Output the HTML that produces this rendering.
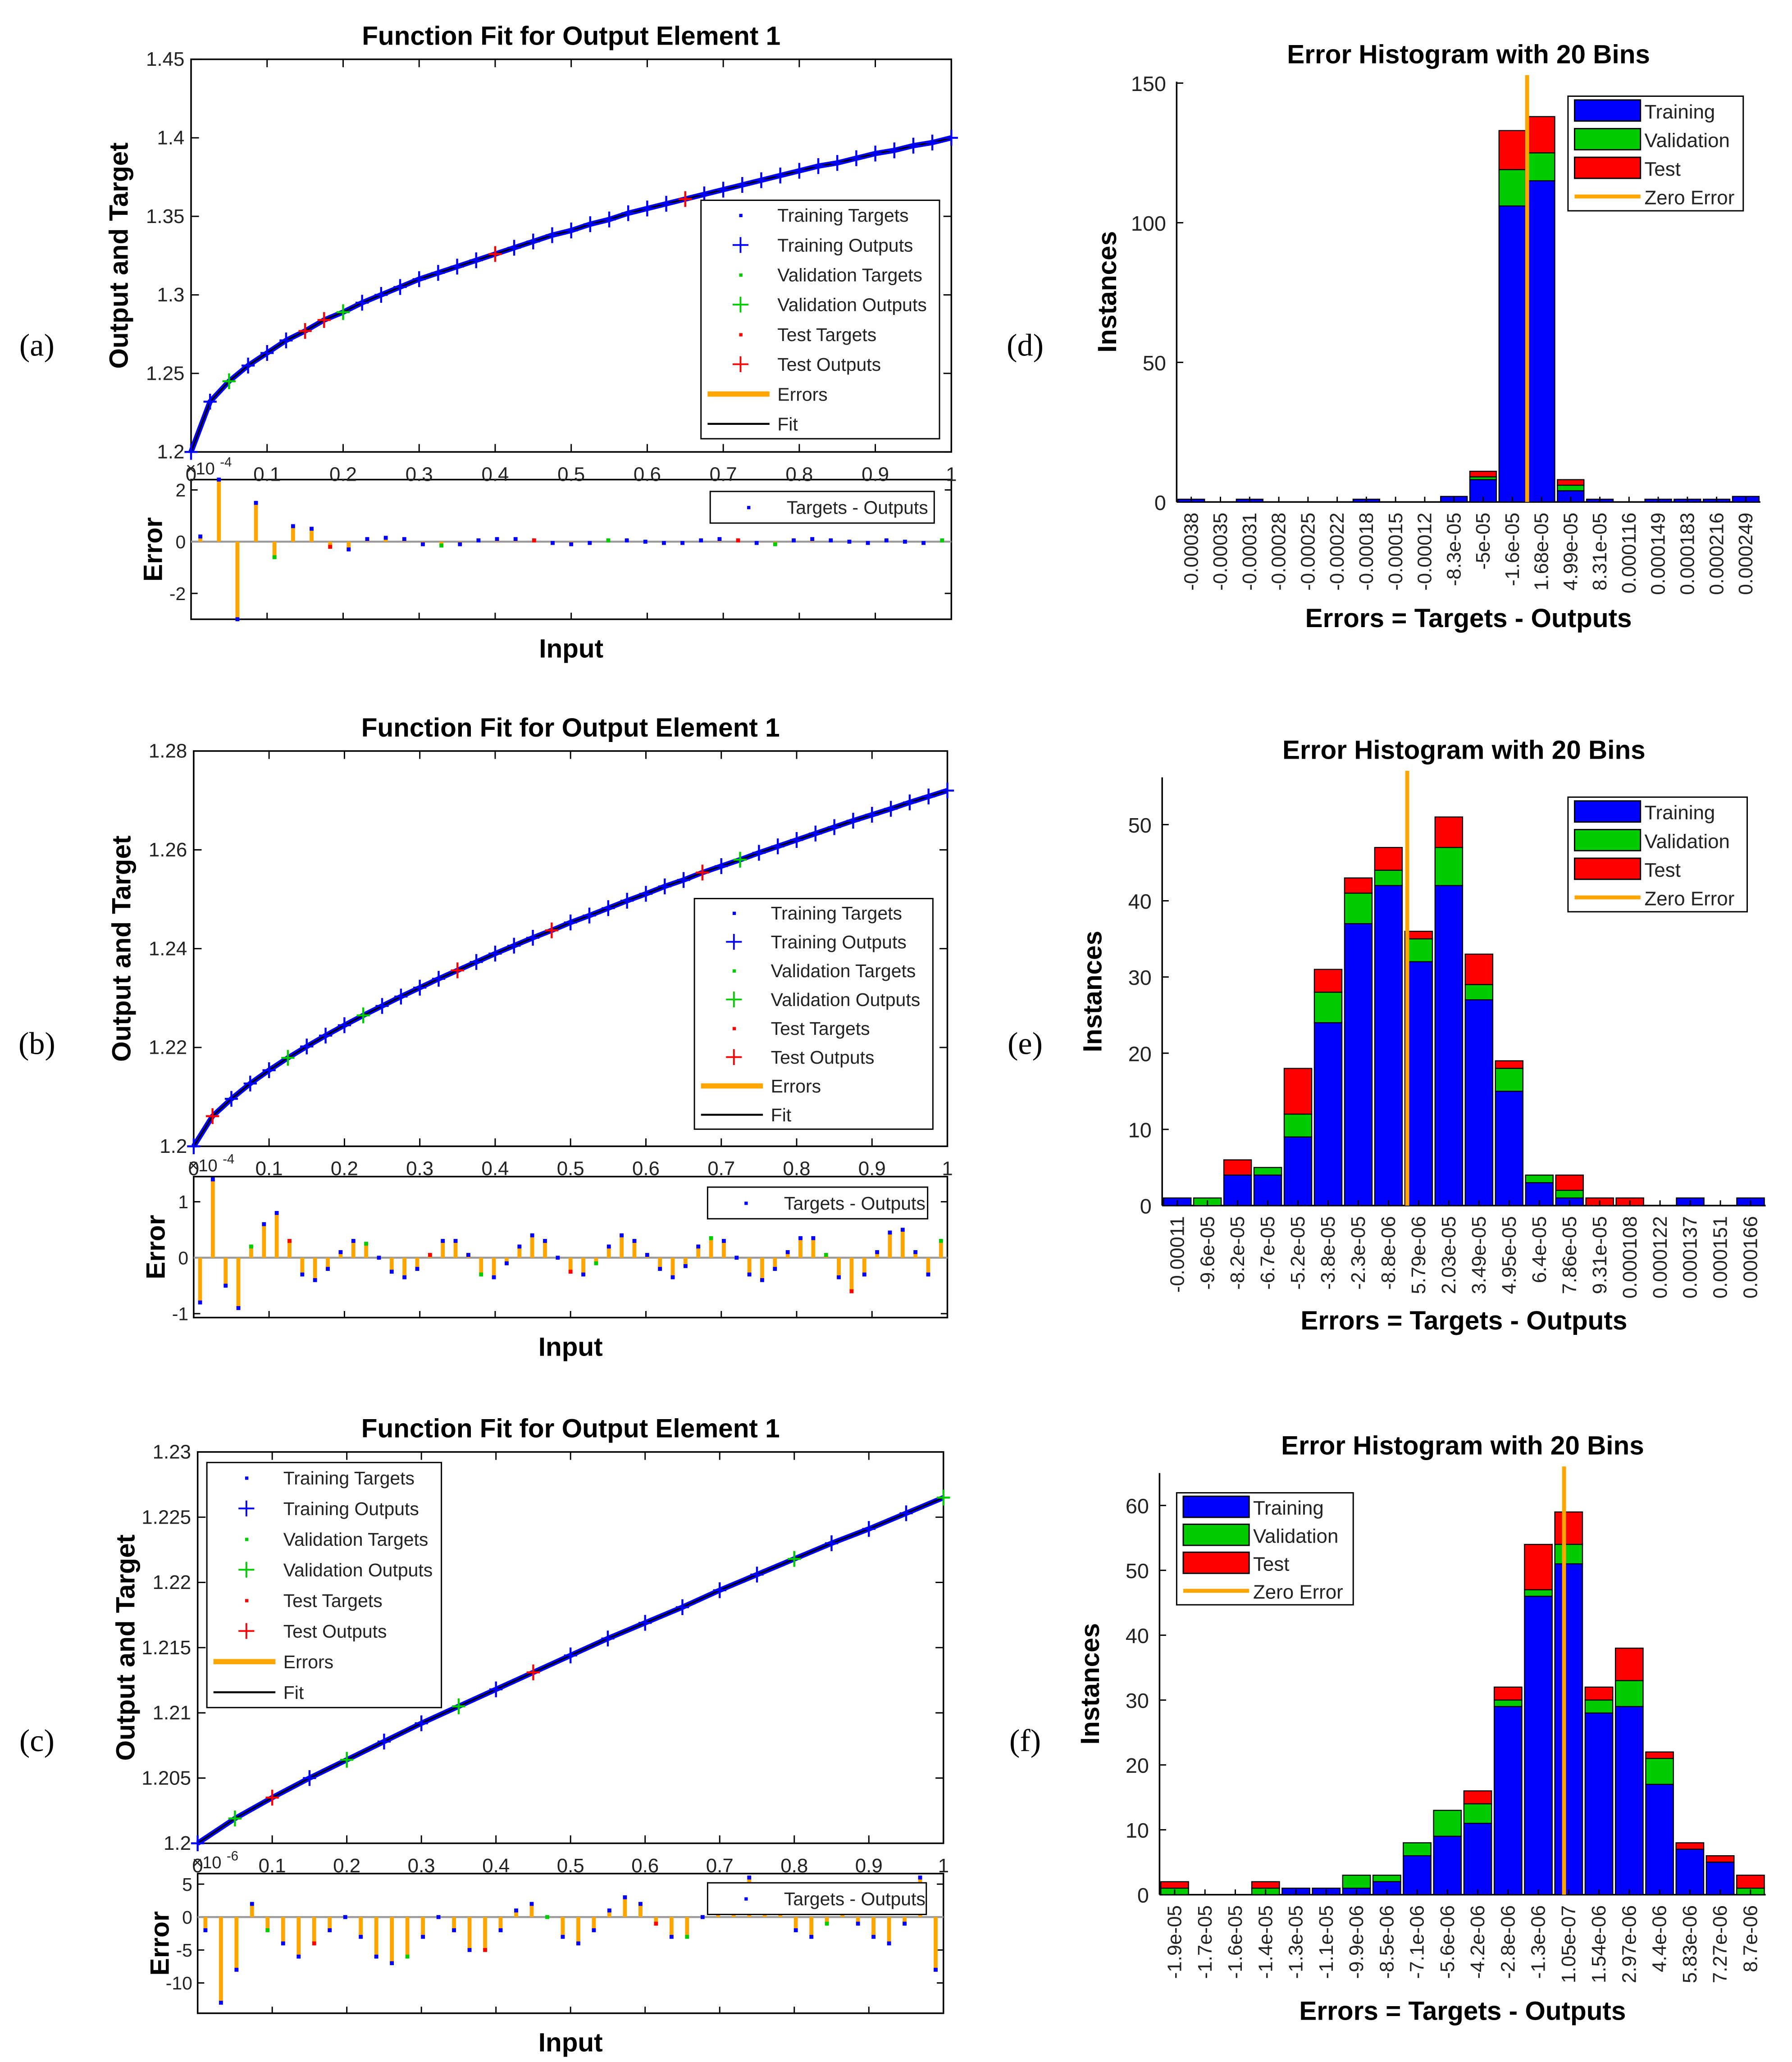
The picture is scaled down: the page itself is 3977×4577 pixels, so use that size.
<!DOCTYPE html>
<html><head><meta charset="utf-8"><style>
html,body{margin:0;padding:0;background:#fff;}
svg{display:block;}
text{font-family:"Liberation Sans",sans-serif;}
</style></head><body>
<svg id="fig" width="3977" height="4577" viewBox="0 0 1360 1565" preserveAspectRatio="none" xmlns="http://www.w3.org/2000/svg"></svg>
<script>
// ---------- data ----------
const fitA = [1.2,1.232,1.245,1.255,1.263,1.271,1.277,1.284,1.289,1.295,1.3,1.305,1.310,1.314,1.318,1.322,1.326,1.330,1.334,1.338,1.341,1.345,1.348,1.352,1.355,1.358,1.361,1.364,1.367,1.370,1.373,1.376,1.379,1.382,1.384,1.387,1.390,1.392,1.395,1.397,1.4];
const colA = "bbgbbbrrgbbbbbbbrbbbbbbbbbrbbbbbbbbbbbbbb";
const errA = [0.2,2.4,-3.0,1.5,-0.6,0.6,0.5,-0.2,-0.3,0.1,0.15,0.1,-0.1,-0.15,-0.1,0.05,0.1,0.1,0.05,-0.05,-0.1,-0.05,0.05,0.05,0,-0.05,-0.05,0.05,0.1,0.05,-0.05,-0.1,0.05,0.1,0.05,0,-0.05,0.05,0,-0.05,0.05];
const fitB = [1.2,1.2061,1.2096,1.2127,1.2154,1.2179,1.2202,1.2224,1.2245,1.2265,1.2284,1.2303,1.2321,1.2339,1.2356,1.2373,1.2390,1.2406,1.2422,1.2437,1.2453,1.2467,1.2482,1.2497,1.2511,1.2526,1.2539,1.2554,1.2567,1.2580,1.2594,1.2607,1.2620,1.2633,1.2646,1.2659,1.2671,1.2683,1.2696,1.2708,1.2720];
const colB = "brbbbgbbbgbbbbrbbbbrbbbbbbbrbgbbbbbbbbbbb";
const errB = [-0.8,1.4,-0.5,-0.9,0.2,0.6,0.8,0.3,-0.3,-0.4,-0.2,0.1,0.3,0.25,0,-0.25,-0.35,-0.2,0.05,0.3,0.3,0.05,-0.3,-0.35,-0.1,0.2,0.4,0.3,0,-0.25,-0.3,-0.1,0.2,0.4,0.3,0.05,-0.2,-0.35,-0.15,0.2,0.35,0.3,0,-0.3,-0.4,-0.2,0.1,0.35,0.35,0.05,-0.35,-0.6,-0.3,0.1,0.45,0.5,0.1,-0.3,0.3];
const fitC = [1.2,1.2019,1.2035,1.2050,1.2064,1.2078,1.2092,1.2105,1.2118,1.2131,1.2144,1.2157,1.2169,1.2181,1.2194,1.2206,1.2218,1.2230,1.2241,1.2253,1.2265];
const colC = "bgrbgbbgbrbbbbbbgbbbg";
const errC = [-2,-13,-8,2,-2,-4,-6,-4,-2,0,-3,-6,-7,-6,-3,0,-2,-5,-5,-2,1,2,0,-3,-4,-2,1,3,2,-1,-3,-3,0,3,4,6,4,1,-2,-3,-1,2,-1,-3,-4,-1,6,-8];
const xTicks = [0,0.1,0.2,0.3,0.4,0.5,0.6,0.7,0.8,0.9,1];
const xTickLabels = ["0","0.1","0.2","0.3","0.4","0.5","0.6","0.7","0.8","0.9","1"];

const binsD = ["-0.00038","-0.00035","-0.00031","-0.00028","-0.00025","-0.00022","-0.00018","-0.00015","-0.00012","-8.3e-05","-5e-05","-1.6e-05","1.68e-05","4.99e-05","8.31e-05","0.000116","0.000149","0.000183","0.000216","0.000249"];
const trainD = [1,0,1,0,0,0,1,0,0,2,8,106,115,4,1,0,1,1,1,2];
const valD   = [0,0,0,0,0,0,0,0,0,0,1,13,10,2,0,0,0,0,0,0];
const testD  = [0,0,0,0,0,0,0,0,0,0,2,14,13,2,0,0,0,0,0,0];
const binsE = ["-0.00011","-9.6e-05","-8.2e-05","-6.7e-05","-5.2e-05","-3.8e-05","-2.3e-05","-8.8e-06","5.79e-06","2.03e-05","3.49e-05","4.95e-05","6.4e-05","7.86e-05","9.31e-05","0.000108","0.000122","0.000137","0.000151","0.000166"];
const trainE = [1,0,4,4,9,24,37,42,32,42,27,15,3,1,0,0,0,1,0,1];
const valE   = [0,1,0,1,3,4,4,2,3,5,2,3,1,1,0,0,0,0,0,0];
const testE  = [0,0,2,0,6,3,2,3,1,4,4,1,0,2,1,1,0,0,0,0];
const binsF = ["-1.9e-05","-1.7e-05","-1.6e-05","-1.4e-05","-1.3e-05","-1.1e-05","-9.9e-06","-8.5e-06","-7.1e-06","-5.6e-06","-4.2e-06","-2.8e-06","-1.3e-06","1.05e-07","1.54e-06","2.97e-06","4.4e-06","5.83e-06","7.27e-06","8.7e-06"];
const trainF = [0,0,0,0,1,1,1,2,6,9,11,29,46,51,28,29,17,7,5,0];
const valF   = [1,0,0,1,0,0,2,1,2,4,3,1,1,3,2,4,4,0,0,1];
const testF  = [1,0,0,1,0,0,0,0,0,0,2,2,7,5,2,5,1,1,1,2];

// ---------- helpers ----------
const NS = "http://www.w3.org/2000/svg";
const svg = document.getElementById('fig');
function mk(tag, attrs, parent) {
  const e = document.createElementNS(NS, tag);
  for (const k in attrs) e.setAttribute(k, attrs[k]);
  (parent || svg).appendChild(e);
  return e;
}
function txt(s, attrs, parent) { const t = mk('text', attrs, parent); t.textContent = s; return t; }
const COL = {b:'#0000ff', g:'#00cc00', r:'#ff0000'};

function fitPanel(P, fit, cols, err) {
  const g = mk('g', {});
  
  
  const sx = v => P.x0 + v * (P.x1 - P.x0);
  const sy = v => P.y1 - (v - P.ymin) / (P.ymax - P.ymin) * (P.y1 - P.y0);
  const ey = v => P.ey1 - (v - P.emin) / (P.emax - P.emin) * (P.ey1 - P.ey0);
  const t = txt('Function Fit for Output Element 1', {x:(P.x0+P.x1)/2, y:P.y0-11, 'font-size':20, 'font-weight':'bold', 'text-anchor':'middle'}, g);
  
  
  const box = mk('rect', {x:P.x0, y:P.y0, width:P.x1-P.x0, height:P.y1-P.y0, fill:'#fff', stroke:'#000', 'stroke-width':1.2}, g);
  
  
  P.yticks.forEach((v, i) => {
    mk('line', {x1:P.x0, x2:P.x0+6, y1:sy(v), y2:sy(v), stroke:'#000'}, g);
    mk('line', {x1:P.x1, x2:P.x1-6, y1:sy(v), y2:sy(v), stroke:'#000'}, g);
    const l = txt(P.ylabels[i], {x:P.x0-5, y:sy(v)+5, 'font-size':15, 'text-anchor':'end', fill:'#222'}, g);
    
    
  });
  xTicks.forEach((v, i) => {
    mk('line', {x1:sx(v), x2:sx(v), y1:P.y1, y2:P.y1-6, stroke:'#000'}, g);
    mk('line', {x1:sx(v), x2:sx(v), y1:P.y0, y2:P.y0+6, stroke:'#000'}, g);
  });
  const n = fit.length;
  const pts = fit.map((v, i) => sx(i/(n-1)) + ',' + sy(v)).join(' ');
  const band = mk('polyline', {points:pts, fill:'none', stroke:'#0000ff', 'stroke-width':4}, g);
  
  
  const fl = mk('polyline', {points:pts, fill:'none', stroke:'#000', 'stroke-width':1.2}, g);
  
  
  fit.forEach((v, i) => {
    const c = COL[cols[i]] || COL.b;
    const x = sx(i/(n-1)), y = sy(v);
    const m = mk('path', {d:`M${x-5},${y}H${x+5}M${x},${y-6}V${y+6}`, stroke:c, 'stroke-width':1.5}, g);
    
    
  });
  const L = P.leg;
  const lg = mk('rect', {x:L.x, y:L.y, width:L.w, height:L.h, fill:'#fff', stroke:'#000', 'stroke-width':1}, g);
  
  
  const items = [['Training Targets','b','dot'],['Training Outputs','b','plus'],['Validation Targets','g','dot'],['Validation Outputs','g','plus'],['Test Targets','r','dot'],['Test Outputs','r','plus'],['Errors','#ffa500','line'],['Fit','#000','thin']];
  const dy = L.h / 8;
  items.forEach((it, i) => {
    const y = L.y + dy*(i+0.5);
    const cx = L.x + 30;
    if (it[2] === 'dot') mk('rect', {x:cx-1, y:y-1, width:2.5, height:2.5, fill:COL[it[1]]}, g);
    else if (it[2] === 'plus') mk('path', {d:`M${cx-6},${y}H${cx+6}M${cx},${y-6}V${y+6}`, stroke:COL[it[1]], 'stroke-width':1.3}, g);
    else mk('line', {x1:L.x+5, x2:L.x+52, y1:y, y2:y, stroke:it[1], 'stroke-width':it[2]==='line'?4:1.5}, g);
    const e = txt(it[0], {x:L.x+58, y:y+5, 'font-size':14, fill:'#222'}, g);
    
    
  });
  const eb = mk('rect', {x:P.x0, y:P.ey0, width:P.x1-P.x0, height:P.ey1-P.ey0, fill:'#fff', stroke:'#000', 'stroke-width':1.2}, g);
  
  
  txt('\u00d710', {x:P.x0-4, y:P.ey0-4, 'font-size':13, fill:'#222'}, g);
  txt(P.exp, {x:P.x0+22, y:P.ey0-10, 'font-size':10, fill:'#222'}, g);
  xTicks.forEach((v, i) => {
    const l = txt(xTickLabels[i], {x:sx(v), y:P.y1+22, 'font-size':15, 'text-anchor':'middle', fill:'#222'}, g);
    
    
    mk('line', {x1:sx(v), x2:sx(v), y1:P.ey1, y2:P.ey1-5, stroke:'#000'}, g);
  });
  P.eticks.forEach(v => {
    mk('line', {x1:P.x0, x2:P.x0+5, y1:ey(v), y2:ey(v), stroke:'#000'}, g);
    mk('line', {x1:P.x1, x2:P.x1-5, y1:ey(v), y2:ey(v), stroke:'#000'}, g);
    const l = txt(String(v), {x:P.x0-4, y:ey(v)+5, 'font-size':14, 'text-anchor':'end', fill:'#222'}, g);
    
    
  });
  mk('line', {x1:P.x0, x2:P.x1, y1:ey(0), y2:ey(0), stroke:'#999', 'stroke-width':1.5}, g);
  const m = err.length;
  err.forEach((v, i) => {
    const x = sx((i+0.5)/m);
    const s = mk('line', {x1:x, x2:x, y1:ey(0), y2:ey(v), stroke:'#ffa500', 'stroke-width':3}, g);
    
    
    const c = (i % 9 === 4) ? COL.g : (i % 11 === 7 ? COL.r : COL.b);
    mk('rect', {x:x-1.5, y:ey(v)-1.5, width:3, height:3, fill:c}, g);
  });
  const el = mk('rect', {x:P.eleg.x, y:P.eleg.y, width:P.eleg.w, height:24, fill:'#fff', stroke:'#000'}, g);
  
  
  mk('rect', {x:P.eleg.x+28, y:P.eleg.y+11, width:2.5, height:2.5, fill:COL.b}, g);
  txt('Targets - Outputs', {x:P.eleg.x+58, y:P.eleg.y+17, 'font-size':14, fill:'#222'}, g);
  const yl = txt('Output and Target', {x:0, y:0, 'font-size':20, 'font-weight':'bold', 'text-anchor':'middle', transform:`translate(${P.x0-48},${(P.y0+P.y1)/2}) rotate(-90)`}, g);
  
  
  const el2 = txt('Error', {x:0, y:0, 'font-size':20, 'font-weight':'bold', 'text-anchor':'middle', transform:`translate(${P.x0-22},${(P.ey0+P.ey1)/2}) rotate(-90)`}, g);
  
  
  const xl = txt('Input', {x:(P.x0+P.x1)/2, y:P.ey1+29, 'font-size':20, 'font-weight':'bold', 'text-anchor':'middle'}, g);
  
  
}

function histPanel(H, bins, tr, va, te) {
  const g = mk('g', {});
  
  
  const sy = v => H.y1 - v / H.ymax * (H.y1 - H.y0);
  const bw = (H.x1 - H.x0) / bins.length;
  const t = txt('Error Histogram with 20 Bins', {x:(H.x0+H.x1)/2, y:H.y0-14, 'font-size':20, 'font-weight':'bold', 'text-anchor':'middle'}, g);
  
  
  mk('line', {x1:H.x0, x2:H.x0, y1:H.y0, y2:H.y1, stroke:'#000', 'stroke-width':1.2}, g);
  mk('line', {x1:H.x0, x2:H.x1, y1:H.y1, y2:H.y1, stroke:'#000', 'stroke-width':1.2}, g);
  H.yticks.forEach(v => {
    mk('line', {x1:H.x0, x2:H.x0+5, y1:sy(v), y2:sy(v), stroke:'#000'}, g);
    const l = txt(String(v), {x:H.x0-8, y:sy(v)+6, 'font-size':16, 'text-anchor':'end', fill:'#222'}, g);
    
    
  });
  bins.forEach((b, i) => {
    const x = H.x0 + i*bw;
    const a = tr[i], b2 = tr[i]+va[i], c = tr[i]+va[i]+te[i];
    if (c > 0) {
      const r1 = mk('rect', {x:x+1, y:sy(c), width:bw-2, height:sy(b2)-sy(c), fill:'#ff0000', stroke:'#000', 'stroke-width':0.8}, g);
      
      
      const r2 = mk('rect', {x:x+1, y:sy(b2), width:bw-2, height:sy(a)-sy(b2), fill:'#00cc00', stroke:'#000', 'stroke-width':0.8}, g);
      
      
      const r3 = mk('rect', {x:x+1, y:sy(a), width:bw-2, height:sy(0)-sy(a), fill:'#0000ff', stroke:'#000', 'stroke-width':0.8}, g);
      
      
    }
    const cx = x + bw/2;
    mk('line', {x1:cx, x2:cx, y1:H.y1, y2:H.y1-4, stroke:'#000'}, g);
    const l = txt(b, {x:0, y:0, 'font-size':15, 'text-anchor':'end', fill:'#222', transform:`translate(${cx+5},${H.y1+8}) rotate(-90)`}, g);
    
    
  });
  const z = mk('line', {x1:H.zx, x2:H.zx, y1:H.y0-5, y2:H.y1, stroke:'#ffa500', 'stroke-width':3}, g);
  
  
  const L = H.leg;
  const lg = mk('rect', {x:L.x, y:L.y, width:L.w, height:L.h, fill:'#fff', stroke:'#000'}, g);
  
  
  [['Training','#0000ff'],['Validation','#00cc00'],['Test','#ff0000'],['Zero Error','#ffa500']].forEach((it, i) => {
    const y = L.y + L.h/4*(i+0.5);
    if (i < 3) mk('rect', {x:L.x+5, y:y-8, width:50, height:16, fill:it[1], stroke:'#000'}, g);
    else mk('line', {x1:L.x+5, x2:L.x+55, y1:y, y2:y, stroke:it[1], 'stroke-width':3}, g);
    const e = txt(it[0], {x:L.x+58, y:y+6, 'font-size':15, fill:'#222'}, g);
    
    
  });
  const yl = txt('Instances', {x:0, y:0, 'font-size':20, 'font-weight':'bold', 'text-anchor':'middle', transform:`translate(${H.x0-46},${(H.y0+H.y1)/2}) rotate(-90)`}, g);
  
  
  const xl = txt('Errors = Targets - Outputs', {x:(H.x0+H.x1)/2, y:H.xly, 'font-size':20, 'font-weight':'bold', 'text-anchor':'middle'}, g);
  
  
}

fitPanel({name:'fit-panel-a', x0:145, x1:722, y0:45, y1:343, ymin:1.2, ymax:1.45, yticks:[1.2,1.25,1.3,1.35,1.4,1.45], ylabels:['1.2','1.25','1.3','1.35','1.4','1.45'],
  ey0:364, ey1:470, emin:-3.0, emax:2.4, eticks:[2,0,-2], exp:'-4', leg:{x:532,y:152,w:181,h:181}, eleg:{x:539,y:373,w:170}}, fitA, colA, errA);
fitPanel({name:'fit-panel-b', x0:147, x1:719, y0:570, y1:870, ymin:1.2, ymax:1.28, yticks:[1.2,1.22,1.24,1.26,1.28], ylabels:['1.2','1.22','1.24','1.26','1.28'],
  ey0:893, ey1:1000, emin:-1.07, emax:1.45, eticks:[1,0,-1], exp:'-4', leg:{x:527,y:682,w:181,h:175}, eleg:{x:537,y:901,w:167}}, fitB, colB, errB);
fitPanel({name:'fit-panel-c', x0:150, x1:716, y0:1102, y1:1399, ymin:1.2, ymax:1.23, yticks:[1.2,1.205,1.21,1.215,1.22,1.225,1.23], ylabels:['1.2','1.205','1.21','1.215','1.22','1.225','1.23'],
  ey0:1422, ey1:1528, emin:-14.6, emax:6.6, eticks:[5,0,-5,-10], exp:'-6', leg:{x:157,y:1110,w:178,h:186}, eleg:{x:537,y:1429,w:166}}, fitC, colC, errC);

histPanel({name:'histogram-d', x0:893, x1:1336, y0:62, y1:381, ymax:150.5, yticks:[0,50,100,150], zx:1159, leg:{x:1190,y:73,w:133,h:87}, xly:476}, binsD, trainD, valD, testD);
histPanel({name:'histogram-e', x0:882, x1:1340, y0:590, y1:915, ymax:56.2, yticks:[0,10,20,30,40,50], zx:1068, leg:{x:1190,y:605,w:136,h:87}, xly:1009}, binsE, trainE, valE, testE);
histPanel({name:'histogram-f', x0:880, x1:1340, y0:1118, y1:1438, ymax:65, yticks:[0,10,20,30,40,50,60], zx:1187, leg:{x:893,y:1133,w:134,h:85}, xly:1533}, binsF, trainF, valF, testF);

[['(a)',28,270],['(b)',28,800],['(c)',28,1329],['(d)',778,270],['(e)',778,800],['(f)',778,1329]].forEach(p => {
  const t = txt(p[0], {x:p[1], y:p[2], 'font-size':24, 'text-anchor':'middle', style:'font-family:"Liberation Serif",serif'});
  
  
});
</script>
</body></html>
